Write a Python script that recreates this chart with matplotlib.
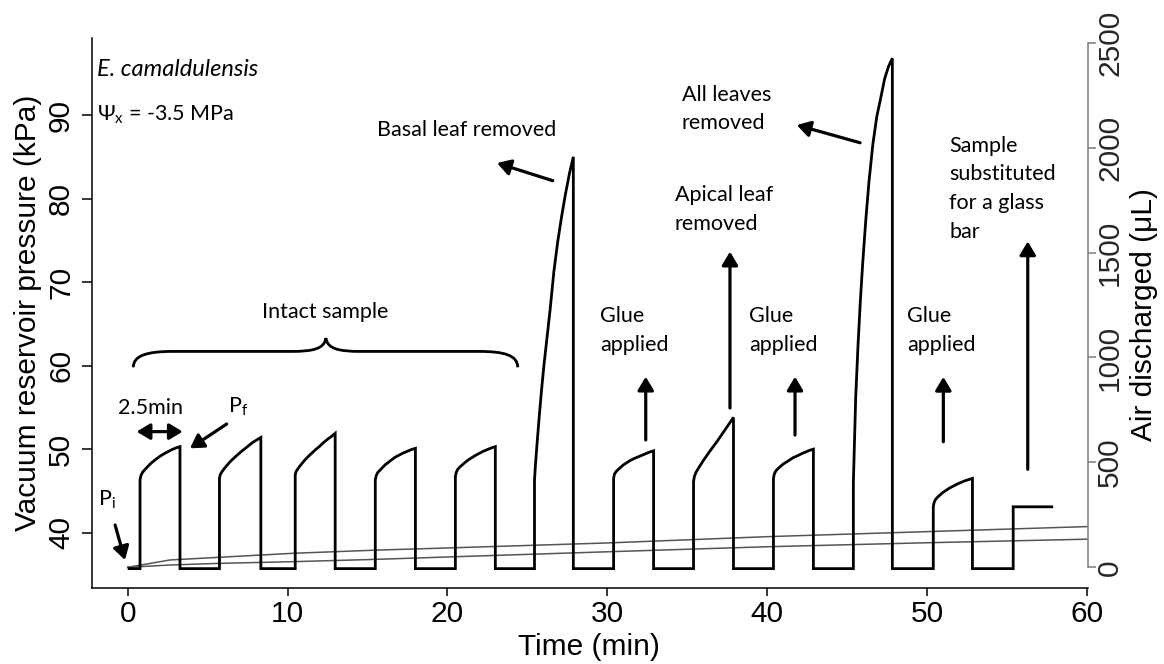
import matplotlib
matplotlib.use("Agg")
import matplotlib.pyplot as plt
from matplotlib.path import Path
from matplotlib.patches import PathPatch
from matplotlib.transforms import blended_transform_factory

# ---------------------------------------------------------------------------
# Vacuum reservoir pressure (kPa): one pulse per 2.5-min closed-valve period
# ---------------------------------------------------------------------------
base_kpa = 35.7
pulse_start = [0.77, 5.74, 10.48, 15.49, 20.50, 25.45, 30.40, 35.40, 40.40, 45.40, 50.40, 55.40]
pulse_end = [3.27, 8.33, 12.98, 18.00, 23.00, 27.88, 32.90, 37.90, 42.90, 47.84, 52.85, 57.90]
# pressure readings at these fractions of each pulse
pulse_frac = [0.0, 0.02, 0.06, 0.12, 0.18, 0.24, 0.32, 0.40, 0.50, 0.60, 0.70, 0.80, 0.90, 1.0]
pulse_kpa = [
    [46.3, 46.8, 47.2, 47.55, 47.85, 48.15, 48.5, 48.8, 49.15, 49.45, 49.7, 49.95, 50.15, 50.3],
    [46.5, 46.95, 47.3, 47.7, 48.05, 48.4, 48.8, 49.15, 49.6, 50.0, 50.4, 50.8, 51.1, 51.4],
    [46.9, 47.3, 47.6, 48.0, 48.35, 48.7, 49.1, 49.45, 49.9, 50.3, 50.75, 51.15, 51.5, 51.9],
    [46.3, 46.8, 47.2, 47.5, 47.8, 48.1, 48.4, 48.7, 49.05, 49.3, 49.55, 49.75, 49.95, 50.1],
    [46.7, 47.2, 47.6, 47.9, 48.15, 48.4, 48.7, 48.95, 49.25, 49.5, 49.75, 49.95, 50.15, 50.3],
    [46.3, 47.8, 50.3, 53.8, 57.0, 59.9, 63.3, 66.6, 71.3, 74.9, 77.9, 80.6, 83.0, 85.0],
    [46.5, 47.0, 47.3, 47.6, 47.85, 48.1, 48.35, 48.6, 48.85, 49.05, 49.25, 49.45, 49.65, 49.8],
    [46.1, 46.7, 47.2, 47.7, 48.15, 48.6, 49.15, 49.7, 50.35, 51.0, 51.7, 52.4, 53.1, 53.8],
    [46.5, 47.0, 47.4, 47.7, 47.95, 48.2, 48.45, 48.7, 49.0, 49.2, 49.45, 49.65, 49.85, 50.0],
    [46.0, 49.5, 56.2, 62.5, 67.8, 72.3, 77.5, 82.0, 86.5, 89.8, 92.0, 94.3, 95.8, 96.8],
    [43.1, 43.6, 44.0, 44.3, 44.55, 44.8, 45.05, 45.3, 45.55, 45.8, 46.0, 46.2, 46.35, 46.5],
    [43.1, 43.1, 43.1, 43.1, 43.1, 43.1, 43.1, 43.1, 43.1, 43.1, 43.1, 43.1, 43.1, 43.1],
]

# ---------------------------------------------------------------------------
# Cumulative air discharged (uL), two series on the right-hand axis
# ---------------------------------------------------------------------------
air_time = [0, 2.65, 5.8, 10.4, 15.6, 19.5, 30, 40, 50, 60]
air_upper = [0, 35, 48, 67, 82, 91, 116, 146, 170, 194]
air_lower = [0, 11, 19, 27, 38, 48, 74, 98, 117, 134]

x_ticks = [0, 10, 20, 30, 40, 50, 60]
kpa_ticks = [40, 50, 60, 70, 80, 90]
air_ticks = [0, 500, 1000, 1500, 2000, 2500]

# ---------------------------------------------------------------------------
plt.rcParams["font.family"] = ["Liberation Sans", "DejaVu Sans"]
NOTE = ["Lato", "DejaVu Sans"]
NOTE_SIZE = 15.5
AX_SIZE = 21.5

fig = plt.figure(figsize=(11.64, 6.64), dpi=100)
ax = fig.add_axes([92 / 1164, 76 / 664, 996 / 1164, 550 / 664])
ax.set_xlim(-2.234, 60.08)
ax.set_ylim(33.38, 99.22)

# pressure trace assembled from the pulses
trace_t = [0.0]
trace_p = [base_kpa]
n_pulse = len(pulse_start)
for i in range(n_pulse):
    s, e = pulse_start[i], pulse_end[i]
    vals = pulse_kpa[i]
    trace_t += [s, s] + [s + f * (e - s) for f in pulse_frac[1:]]
    trace_p += [base_kpa, vals[0]] + vals[1:]
    if i < n_pulse - 1:
        trace_t.append(e)
        trace_p.append(base_kpa)

# right axis for the air discharged
ax2 = ax.twinx()
ax2.set_ylim(-98.6, 2522.4)
ax2.plot(air_time, air_upper, color="#555555", lw=1.1, zorder=1)
ax2.plot(air_time, air_lower, color="#555555", lw=1.1, zorder=1)

ax.set_zorder(ax2.get_zorder() + 1)
ax.patch.set_visible(False)
ax.plot(trace_t, trace_p, color="black", lw=2.0, solid_joinstyle="miter",
        solid_capstyle="butt")

# spines and ticks
for side in ("top", "right"):
    ax.spines[side].set_visible(False)
for side in ("top", "left", "bottom"):
    ax2.spines[side].set_visible(False)
ax.spines["left"].set_linewidth(1.1)
ax.spines["bottom"].set_linewidth(1.1)
ax2.spines["right"].set_color("#7a7a7a")
ax2.spines["right"].set_linewidth(1.1)
ax2.spines["right"].set_bounds(0, 2500)

ax.set_xticks(x_ticks)
ax.set_xticklabels([str(v) for v in x_ticks], fontsize=AX_SIZE)
ax.tick_params(axis="x", direction="out", length=6, width=1.1, pad=3)
ax.set_yticks(kpa_ticks)
ax.tick_params(axis="y", direction="out", length=7.2, width=1.1,
               labelleft=False)
left_tf = blended_transform_factory(ax.transAxes, ax.transData)
for v in kpa_ticks:
    ax.text(-0.0311, v, str(v), transform=left_tf, rotation=90,
            ha="center", va="center", fontsize=AX_SIZE)

ax2.set_yticks(air_ticks)
ax2.tick_params(axis="y", direction="out", length=6, width=1.1,
                color="#7a7a7a", labelright=False)
right_tf = blended_transform_factory(ax2.transAxes, ax2.transData)
for v in air_ticks:
    ax2.text(1.0221, v, str(v), transform=right_tf, rotation=90,
             ha="center", va="center", fontsize=AX_SIZE, color="#262626")

fig.text(28 / 1164, 1 - 313 / 664, "Vacuum reservoir pressure (kPa)",
         rotation=90, ha="center", va="center", fontsize=AX_SIZE)
fig.text(1144 / 1164, 1 - 315 / 664, "Air discharged (\u03bcL)",
         rotation=90, ha="center", va="center", fontsize=AX_SIZE)
fig.text(589 / 1164, 1 - 647 / 664, "Time (min)", ha="center", va="center",
         fontsize=AX_SIZE)

# ---------------------------------------------------------------------------
# annotations
# ---------------------------------------------------------------------------
def note(x, y, s, size=NOTE_SIZE, **kw):
    kw.setdefault("ha", "left")
    kw.setdefault("va", "center")
    ax.text(x, y, s, family=NOTE, fontsize=size, linespacing=1.55, **kw)


def arrow(tail, head, style="-|>"):
    ax.annotate("", xy=head, xytext=tail,
                arrowprops=dict(arrowstyle=style + ",head_length=0.5,head_width=0.3",
                                mutation_scale=16, lw=2.3, color="black",
                                shrinkA=0, shrinkB=0))


note(-1.92, 95.4, "E. camaldulensis", size=17, style="italic")
note(-1.92, 90.0, "\u03a8$_\\mathregular{x}$ = -3.5 MPa")

note(15.6, 88.2, "Basal leaf removed")
arrow((26.59, 82.14), (23.11, 84.25))

note(34.66, 90.73, "All leaves\nremoved")
arrow((45.82, 86.68), (41.86, 88.80))

note(34.24, 78.72, "Apical leaf\nremoved")
arrow((37.68, 54.93), (37.68, 73.64))

note(29.55, 64.16, "Glue\napplied")
arrow((32.41, 51.10), (32.41, 58.67))
note(38.89, 64.16, "Glue\napplied")
arrow((41.75, 51.69), (41.75, 58.67))
note(48.78, 64.16, "Glue\napplied")
arrow((51.03, 50.89), (51.03, 58.65))

note(51.39, 81.17, "Sample\nsubstituted\nfor a glass\nbar")
arrow((56.31, 47.59), (56.31, 74.86))

note(12.34, 66.45, "Intact sample", ha="center")

# curly brace over the intact-sample pulses
brace = Path(
    [(0.35, 59.8), (0.35, 61.2), (1.2, 61.7), (2.8, 61.7),
     (10.2, 61.7),
     (11.6, 61.7), (12.3, 62.0), (12.4, 63.3),
     (12.5, 62.0), (13.2, 61.7), (14.6, 61.7),
     (22.0, 61.7),
     (23.6, 61.7), (24.4, 61.2), (24.4, 59.8)],
    [Path.MOVETO, Path.CURVE4, Path.CURVE4, Path.CURVE4,
     Path.LINETO,
     Path.CURVE4, Path.CURVE4, Path.CURVE4,
     Path.CURVE4, Path.CURVE4, Path.CURVE4,
     Path.LINETO,
     Path.CURVE4, Path.CURVE4, Path.CURVE4])
ax.add_patch(PathPatch(brace, facecolor="none", edgecolor="black", lw=2.0))

note(1.40, 54.89, "2.5min", ha="center")
arrow((0.56, 52.1), (3.44, 52.1), style="<|-|>")

note(6.29, 55.08, "P$_\\mathregular{f}$")
arrow((6.19, 53.01), (3.90, 50.10))

note(-1.84, 43.91, "P$_\\mathregular{i}$")
arrow((-0.79, 40.92), (-0.17, 36.73))

fig.savefig("out.png", dpi=100)
